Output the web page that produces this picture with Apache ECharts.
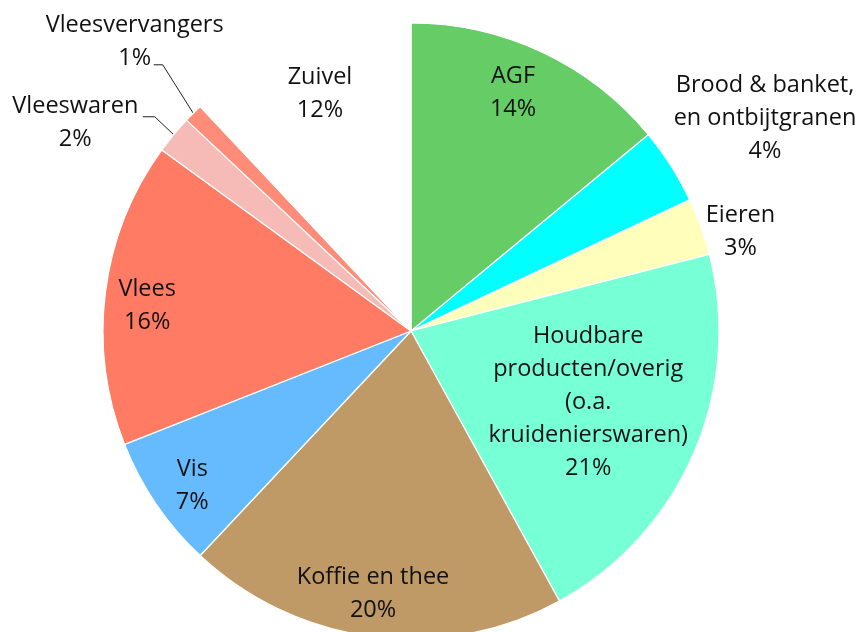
<!DOCTYPE html>
<html>
<head>
<meta charset="utf-8">
<script src="https://cdn.jsdelivr.net/npm/echarts@6/dist/echarts.min.js"></script>
<style>
html, body { margin: 0; background: #fff; }
#main { width: 868px; height: 632px; }
</style>
</head>
<body>
<div id="main"></div>
<script>
// data
var categories = ['AGF', 'Brood & banket,\nen ontbijtgranen', 'Eieren',
    'Houdbare\nproducten/overig\n(o.a.\nkruidenierswaren)', 'Koffie en thee', 'Vis',
    'Vlees', 'Vleeswaren', 'Vleesvervangers', 'Zuivel'];
var shares = [14, 4, 3, 21, 20, 7, 16, 2, 1, 12];
var colors = ['#66cc66', '#00ffff', '#ffffbb', '#77ffd6', '#bf9966', '#66bbff',
    '#ff7b63', '#f7bbb7', '#ff8c78', '#ffffff'];

// label placement (distance from centre, small turn from mid angle)
var cx = 411, cy = 331, R = 308;
var labelDist = [259, 413, 344, 191, 266, 268, 265, 395, 400, 254];
var labelTurn = [-2, 1.4, 3.1, -1.5, 1, -1.1, -1.8, -7.8, 1.3, 0.6];
var outside = [1, 2, 7, 8];
// leader lines: [elbow distance, elbow turn, horizontal length]
var leader = { 7: [334, 0.3, 12], 8: [364, 2, 9] };

var total = shares.reduce(function (s, v) { return s + v; }, 0);
function midAngle(i) {
    var before = 0;
    for (var k = 0; k < i; k++) before += shares[k];
    return (before + shares[i] / 2) / total * 360;
}
function polar(d, deg) {
    var a = deg * Math.PI / 180;
    return [cx + d * Math.sin(a), cy - d * Math.cos(a)];
}

var myChart = echarts.init(document.getElementById('main'));

var data = categories.map(function (name, i) {
    var item = { name: name, value: shares[i], itemStyle: { color: colors[i] } };
    if (outside.indexOf(i) >= 0) {
        item.label = { position: 'outside' };
        item.labelLine = { show: !!leader[i] };
    }
    return item;
});

var option = {
    animation: false,
    series: [{
        type: 'pie',
        center: [cx, cy],
        radius: R,
        startAngle: 90,
        clockwise: true,
        avoidLabelOverlap: false,
        silent: true,
        itemStyle: { borderColor: '#fff', borderWidth: 1.2 },
        label: {
            show: true,
            position: 'inside',
            formatter: function (p) { return p.name + '\n' + p.value + '%'; },
            fontFamily: 'Open Sans',
            fontSize: 23.5,
            lineHeight: 33,
            color: '#111',
            align: 'center'
        },
        labelLine: { lineStyle: { color: '#222', width: 1 } },
        labelLayout: function (p) {
            var i = p.dataIndex;
            var pos = polar(labelDist[i], midAngle(i) + labelTurn[i]);
            var res = { x: pos[0], y: pos[1], align: 'center', verticalAlign: 'middle' };
            if (leader[i]) {
                var start = polar(R, midAngle(i));
                var elbow = polar(leader[i][0], midAngle(i) + leader[i][1]);
                res.labelLinePoints = [start, elbow, [elbow[0] - leader[i][2], elbow[1]]];
            }
            return res;
        },
        data: data
    }]
};

myChart.setOption(option);
</script>
</body>
</html>
